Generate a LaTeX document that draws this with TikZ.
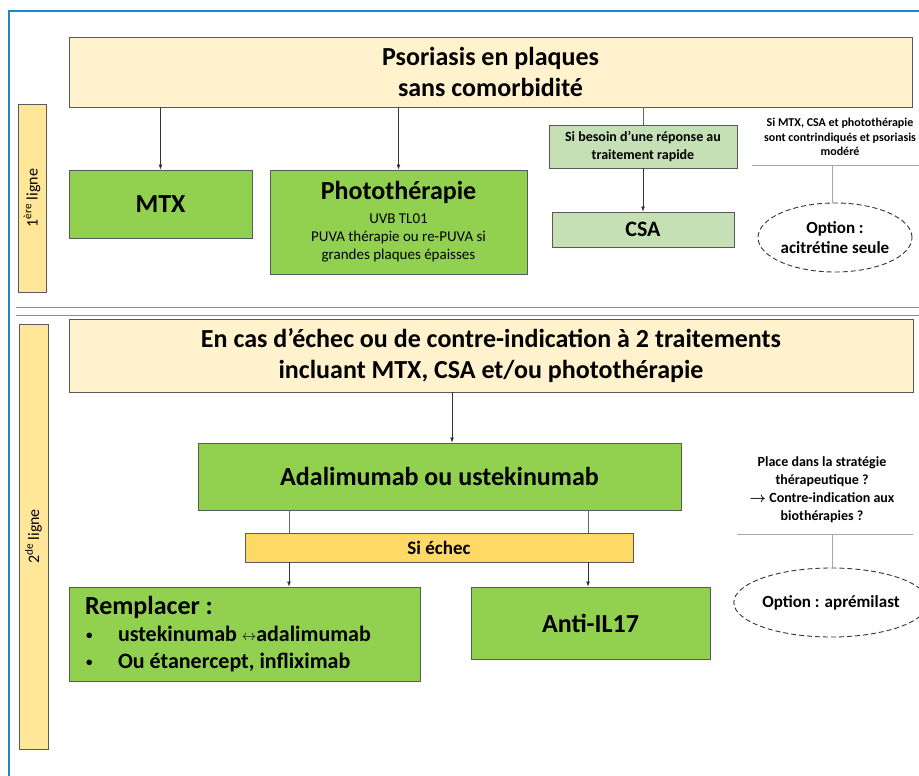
\documentclass[tikz,border=0pt]{standalone}
\usepackage{fontspec}
\setmainfont{Carlito}
\usetikzlibrary{positioning}
\usetikzlibrary{shapes.geometric}
\usetikzlibrary{arrows.meta}
\definecolor{beige}{HTML}{FFF2CC}
\definecolor{jauneligne}{HTML}{FFE699}
\definecolor{jauneechec}{HTML}{FFD966}
\definecolor{vert}{HTML}{92D050}
\definecolor{vertpale}{HTML}{C5E0B4}
\definecolor{bord}{HTML}{595959}
\definecolor{cadrebleu}{HTML}{1E88C0}
\tikzset{
    boite/.style={draw=bord, line width=0.9pt, inner sep=0pt, align=center},
    titrebox/.style={boite, fill=beige, font=\bfseries\fontsize{26}{31}\selectfont},
    lignebox/.style={boite, fill=jauneligne, font=\fontsize{16}{19}\selectfont},
    vertbox/.style={boite, fill=vert, font=\bfseries\fontsize{26}{30}\selectfont},
    palebox/.style={boite, fill=vertpale, font=\bfseries\fontsize{14}{18}\selectfont},
    echecbox/.style={boite, fill=jauneechec, font=\bfseries\fontsize{19}{21}\selectfont},
    fleche/.style={-{Latex[length=5pt,width=4pt]}, draw=black!80, line width=0.7pt},
    trait/.style={draw=black!60, line width=0.7pt},
    traitgris/.style={draw=black!35, line width=1pt},
    remarque/.style={align=center, inner sep=0pt},
    optionell/.style={ellipse, draw=black!80, dash pattern=on 5pt off 3pt, line width=0.9pt,
        inner sep=0pt, align=center, font=\bfseries\fontsize{17}{20}\selectfont}
}
\newcommand{\puce}{\makebox[33pt][l]{\hspace{1pt}\raisebox{1.5pt}{\fontsize{13}{13}\selectfont\textbullet}}}
\newcommand{\flechedroite}{\mbox{\boldmath$\rightarrow$}}
\begin{document}
\begin{tikzpicture}[x=1pt,y=-1pt]
            \useasboundingbox (0,0) rectangle (919,776);
            % cadre et separation
            \draw[cadrebleu, line width=1.5pt] (919,11) -- (9,11) -- (9,776);
            \draw[black!45, line width=1pt] (16,307) -- (919,307);
            \draw[black!45, line width=1pt] (16,315) -- (919,315);

            % 1ere ligne
            \node (lig1) [lignebox, minimum width=28, minimum height=188] at (32,198)
                {\rotatebox{90}{1\textsuperscript{ère} ligne}};
            \node (pso) [titrebox, minimum width=843, minimum height=70] at (490.5,72)
                {Psoriasis en plaques\\sans comorbidité};
            \node (mtx) [vertbox, minimum width=183, minimum height=68] at (160.5,204) {MTX};
            \node (photo) [vertbox, minimum width=257, minimum height=104] at (398.5,222)
                {Photothérapie\\[-6pt]
                 {\mdseries\fontsize{15}{18}\selectfont UVB TL01}\\[-12pt]
                 {\mdseries\fontsize{15}{18}\selectfont PUVA thérapie ou re-PUVA si}\\[-12pt]
                 {\mdseries\fontsize{15}{18}\selectfont grandes plaques épaisses}};
            \node (besoin) [palebox, minimum width=188, minimum height=43] at (643,146.5)
                {Si besoin d’une réponse au\\traitement rapide};
            \node (csa) [palebox, minimum width=182, minimum height=35,
                font=\bfseries\fontsize{22}{26}\selectfont] at (643,229.5) {CSA};
            \node (rq1) [remarque, font=\bfseries\fontsize{12}{14.7}\selectfont] at (840,137)
                {Si MTX, CSA et photothérapie\\sont contrindiqués  et psoriasis\\modéré};
            \coordinate (rq1g) at (752,165);
            \coordinate (rq1d) at (919,165);
            \coordinate (rq1m) at (832,165);
            \node (acit) [optionell, minimum width=154, minimum height=69] at (835,237.5)
                {Option :\\acitrétine seule};

            \draw[fleche] (pso.south -| mtx.north) -- (mtx.north);
            \draw[fleche] (pso.south -| photo.north) -- (photo.north);
            \draw[trait] (pso.south -| besoin.north) -- (besoin.north);
            \draw[fleche] (besoin) -- (csa);
            \draw[traitgris] (rq1g) -- (rq1d);
            \draw[traitgris] (rq1m) -- (rq1m |- acit.north);

            % 2de ligne
            \node (lig2) [lignebox, minimum width=29, minimum height=425] at (33.5,536.5)
                {\rotatebox{90}{2\textsuperscript{de} ligne}};
            \node (echec2) [titrebox, minimum width=844, minimum height=73] at (491,355.5)
                {En cas d’échec ou de contre-indication à 2 traitements\\incluant MTX, CSA et/ou photothérapie};
            \node (ada) [vertbox, minimum width=483, minimum height=67] at (439.5,476.5)
                {Adalimumab ou ustekinumab};
            \node (siech) [echecbox, minimum width=388, minimum height=29] at (439,547.5) {Si échec};
            \node (rempl) [vertbox, minimum width=351, minimum height=94, text width=319,
                inner xsep=16pt, align=flush left] at (244.5,634)
                {Remplacer :\\[-3pt]
                 {\fontsize{22}{27}\selectfont\puce ustekinumab
                  {\raisebox{1pt}{$\scriptstyle\leftrightarrow$}}adalimumab}\\[-3pt]
                 {\fontsize{22}{27}\selectfont\puce Ou étanercept, infliximab}};
            \node (anti) [vertbox, minimum width=239, minimum height=72] at (590.5,623) {Anti-IL17};
            \node (rq2) [remarque, font=\bfseries\fontsize{14}{18}\selectfont] at (822,490)
                {Place dans la stratégie\\thérapeutique ?\\\flechedroite{} Contre-indication  aux\\biothérapies ?};
            \coordinate (rq2g) at (737,534);
            \coordinate (rq2d) at (913,534);
            \coordinate (rq2m) at (832,534);
            \node (apre) [optionell, minimum width=153, minimum height=69] at (831,602.5)
                {Option : aprémilast};

            \draw[fleche] ([xshift=12.5pt]ada.north |- echec2.south) -- ([xshift=12.5pt]ada.north);
            \draw[trait] ([xshift=-150.5pt]ada.south) -- ([xshift=-150.5pt]ada.south |- siech.north);
            \draw[trait] ([xshift=148.5pt]ada.south) -- ([xshift=148.5pt]ada.south |- siech.north);
            \draw[fleche] ([xshift=-150pt]siech.south) -- ([xshift=-150pt]siech.south |- rempl.north);
            \draw[fleche] ([xshift=149pt]siech.south) -- ([xshift=149pt]siech.south |- anti.north);
            \draw[traitgris] (rq2g) -- (rq2d);
            \draw[traitgris] (rq2m) -- (rq2m |- apre.north);
\end{tikzpicture}
\end{document}
